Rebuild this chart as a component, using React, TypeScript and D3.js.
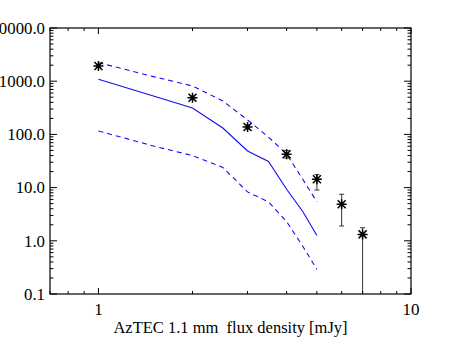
import * as d3 from 'd3';

// x positions of the model curves (mJy)
const modelFlux = [1, 1.5, 2, 2.5, 3, 3.5, 4, 4.5, 5];
const modelMid = [1085, 527, 313, 132, 48.8, 31, 9.3, 3.6, 1.26];
const modelHigh = [2230, 1220, 813, 425, 187, 89, 42.8, 14.5, 5.4];
const modelLow = [116, 60.5, 40, 23.9, 8.3, 5.4, 2.29, 0.8, 0.29];

// measured counts with errors
const obsFlux = [1, 2, 3, 4, 5, 6, 7];
const obsCounts = [1930, 490, 138, 42.3, 14.3, 4.85, 1.32];
const obsErrLow = [1800, 450, 126, 36, 9.0, 1.9, 0.05];
const obsErrHigh = [2080, 530, 151, 50, 17.5, 7.5, 1.76];

const yTickValues = [0.1, 1, 10, 100, 1000, 10000];
const yTickLabels = ['0.1', '1.0', '10.0', '100.0', '1000.0', '10000.0'];
const xTickValues = [1, 10];
const xTickLabels = ['1', '10'];
const xTitle = 'AzTEC 1.1 mm  flux density [mJy]';

const width = 475;
const height = 350;
const margin = { top: 28, right: 64, bottom: 56, left: 50 };
const font = "'Liberation Serif', 'Times New Roman', serif";
const blue = '#1010f0';

export default function App() {
  const x = d3.scaleLog()
    .domain([0.7, 10])
    .range([margin.left, width - margin.right]);
  const y = d3.scaleLog()
    .domain([0.1, 10000])
    .range([height - margin.bottom, margin.top]);

  const x0 = margin.left, x1 = width - margin.right;
  const y0 = margin.top, y1 = height - margin.bottom;

  const line = (vals: number[]) =>
    d3.line<number>()
      .x((_, i) => x(modelFlux[i]))
      .y(d => y(d))(vals) || '';

  const xMinor = x.ticks().filter(t => !xTickValues.includes(t));
  const yMinor = y.ticks().filter(t => !yTickValues.includes(t));

  const star = (cx: number, cy: number, r: number) =>
    `M${cx},${cy - r}L${cx},${cy + r}` +
    `M${cx - r},${cy}L${cx + r},${cy}` +
    `M${cx - r * 0.8},${cy - r * 0.8}L${cx + r * 0.8},${cy + r * 0.8}` +
    `M${cx - r * 0.8},${cy + r * 0.8}L${cx + r * 0.8},${cy - r * 0.8}`;

  return (
    <svg width={width} height={height}
      style={{ position: 'absolute', left: 0, top: 0, background: '#fff' }}>
      <defs>
        <clipPath id="plot">
          <rect x={x0} y={y0} width={x1 - x0} height={y1 - y0} />
        </clipPath>
      </defs>

      <g clipPath="url(#plot)" fill="none">
        <path d={line(modelMid)} stroke={blue} strokeWidth={1.1} />
        <path d={line(modelHigh)} stroke={blue} strokeWidth={1.1} strokeDasharray="5,4" />
        <path d={line(modelLow)} stroke={blue} strokeWidth={1.1} strokeDasharray="5,4" />

        {obsFlux.map((f, i) => {
          const cx = x(f);
          const lo = y(obsErrLow[i]);
          const hi = y(obsErrHigh[i]);
          return (
            <g key={f} stroke="#000">
              <path d={`M${cx},${hi}L${cx},${lo}`} strokeWidth={1} stroke="#333" />
              <path d={`M${cx - 2.5},${hi}L${cx + 2.5},${hi}M${cx - 2.5},${lo}L${cx + 2.5},${lo}`}
                strokeWidth={1} stroke="#333" />
              <path d={star(cx, y(obsCounts[i]), 5)} strokeWidth={1.5} />
              <circle cx={cx} cy={y(obsCounts[i])} r={1.6} fill="#000" stroke="none" />
            </g>
          );
        })}
      </g>

      {/* frame */}
      <rect x={x0} y={y0} width={x1 - x0} height={y1 - y0}
        fill="none" stroke="#000" strokeWidth={1.2} />

      {/* x ticks, bottom and top */}
      <g stroke="#000" strokeWidth={1}>
        {xTickValues.map(t => (
          <g key={'xM' + t}>
            <line x1={x(t)} x2={x(t)} y1={y1} y2={y1 - 6} />
            <line x1={x(t)} x2={x(t)} y1={y0} y2={y0 + 6} />
          </g>
        ))}
        {xMinor.map(t => (
          <g key={'xm' + t}>
            <line x1={x(t)} x2={x(t)} y1={y1} y2={y1 - 3} />
            <line x1={x(t)} x2={x(t)} y1={y0} y2={y0 + 3} />
          </g>
        ))}
        {yTickValues.map(t => (
          <g key={'yM' + t}>
            <line x1={x0} x2={x0 + 7} y1={y(t)} y2={y(t)} />
            <line x1={x1} x2={x1 - 7} y1={y(t)} y2={y(t)} />
          </g>
        ))}
        {yMinor.map(t => (
          <g key={'ym' + t}>
            <line x1={x0} x2={x0 + 3.5} y1={y(t)} y2={y(t)} />
            <line x1={x1} x2={x1 - 3.5} y1={y(t)} y2={y(t)} />
          </g>
        ))}
      </g>

      <g fontFamily={font} fill="#000">
        {yTickValues.map((t, i) => (
          <text key={'yl' + t} x={x0 - 5} y={y(t)} dy="0.35em" textAnchor="end" fontSize={16.8}>
            {yTickLabels[i]}
          </text>
        ))}
        {xTickValues.map((t, i) => (
          <text key={'xl' + t} x={x(t)} y={y1 + 21} textAnchor="middle" fontSize={17}>
            {xTickLabels[i]}
          </text>
        ))}
        <text x={(x0 + x1) / 2} y={y1 + 39} textAnchor="middle" fontSize={16.5}
          style={{ whiteSpace: 'pre' }}>
          {xTitle}
        </text>
      </g>
    </svg>
  );
}
